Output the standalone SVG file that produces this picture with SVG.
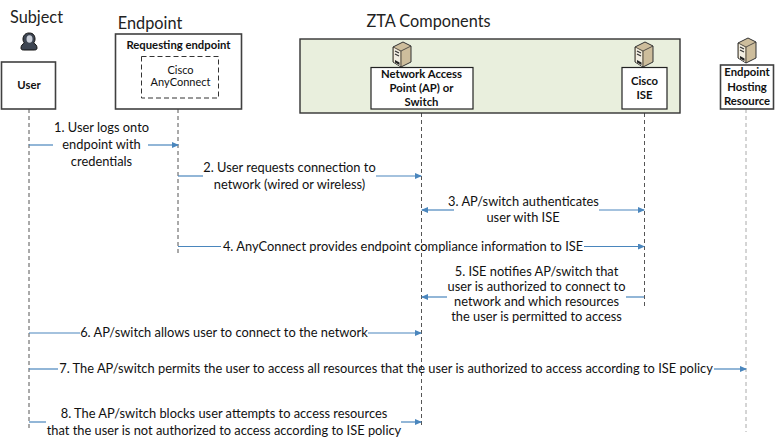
<svg xmlns="http://www.w3.org/2000/svg" width="780" height="447" viewBox="0 0 780 447">
<style>
text{font-family:Lato,Carlito,"Liberation Sans",sans-serif;fill:#111;text-anchor:middle}
.h{font-size:16.300px;fill:#222}
.b{font-size:11.300px;font-weight:700}
.s{font-size:11px}
.m{font-size:12.850px}
.box{fill:#fff;stroke:#404040;stroke-width:1.600}
.life{fill:none;stroke:#555;stroke-width:1;stroke-dasharray:4 3}
.c{fill:none;stroke:#4a86bd;stroke-width:1.200;marker-end:url(#a)}
.n{fill:none;stroke:#4a86bd;stroke-width:1.200}
</style>
<defs>
<marker id="a" markerWidth="7" markerHeight="6" refX="6" refY="3" orient="auto-start-reverse" markerUnits="userSpaceOnUse"><path d="M0 0L7 3L0 6Z" fill="#4a86bd"/></marker>
<g id="srv">
<path d="M0 5L10 0L18 4L18 20L8 25L0 20Z" fill="#cdbd9c" stroke="#333" stroke-width="1"/>
<path d="M0 5L8 9L18 4M8 9V25" fill="none" stroke="#333" stroke-width=".8"/>
<path d="M1 6L7 9.500V24L1 20Z" fill="#f2eee2"/>
<path d="M2 9L6 11M2 12L6 14" stroke="#333" stroke-width="1.200"/>
<path d="M2 18L6.500 20.500V23L2 20.500Z" fill="#222"/>
</g>
</defs>
<g id="connectors">
<path class="life" d="M29 109V431M178 109V255M421.500 113V425M644.500 113V306"/>
<path class="life" style="stroke:#aaa" d="M746 109V432"/>
<path class="n" d="M29 145H53"/><path class="c" d="M148 145H178"/>
<path class="n" d="M178 176H203"/><path class="c" d="M376 176H421"/>
<path class="c" d="M454 210H422"/><path class="c" d="M599 210H644"/>
<path class="n" d="M178 246.500H221"/><path class="c" d="M584 246.500H644"/>
<path class="c" d="M447 297H422"/><path class="n" d="M626 297H644"/>
<path class="n" d="M29 333H80"/><path class="c" d="M368 333H421"/>
<path class="n" d="M29 369H58"/><path class="c" d="M714 369H746"/>
<path class="n" d="M29 422H46"/><path class="c" d="M401 422H421"/>
</g>
<g id="labels">
<text class="h" x="36.500" y="23">Subject</text>
<text class="h" x="150" y="29">Endpoint</text>
<text class="h" x="428.500" y="27">ZTA Components</text>
</g>
<g id="subject-icon"><path d="M29.500 33c4 0 5.500 3 5.500 6 0 2-.6 3-1.500 4 2 1 3.500 2.500 3.500 5 0 1.500-1 2-2.500 2h-11c-1.500 0-2.500-.5-2.500-2 0-2.500 1.500-4 3.500-5-1-1-1.500-2-1.500-4 0-3 2-6 6-6z" fill="#3d4552" stroke="#111" stroke-width="1"/><ellipse cx="29.500" cy="39" rx="3" ry="3.800" fill="#c9ced8"/></g>
<g id="user"><rect class="box" x="1.500" y="62" width="54" height="47"/><text class="b" x="29" y="89">User</text></g>
<g id="endpoint"><rect class="box" x="115.500" y="34" width="126" height="75"/><text class="b" x="178.500" y="49">Requesting endpoint</text>
<rect x="141.500" y="56.500" width="77" height="41.500" fill="#fff" stroke="#333" stroke-width="1" stroke-dasharray="5 3"/>
<text class="s" x="180.500" y="74">Cisco</text><text class="s" x="180.500" y="86">AnyConnect</text></g>
<g id="zta"><rect x="300" y="39" width="380" height="74" fill="#e9efdd" stroke="#333" stroke-width="1.400"/></g>
<g id="nap"><use href="#srv" x="393" y="42"/><rect x="371" y="67.500" width="102" height="41.500" fill="#fff" stroke="#222" stroke-width="1.200"/>
<text class="b" x="421.500" y="78">Network Access</text><text class="b" x="421.500" y="92">Point (AP) or</text><text class="b" x="421.500" y="106">Switch</text></g>
<g id="ise"><use href="#srv" x="635" y="42"/><rect x="622" y="67.500" width="45" height="41.500" fill="#fff" stroke="#222" stroke-width="1.200"/>
<text class="b" x="644.500" y="85">Cisco</text><text class="b" x="644.500" y="99">ISE</text></g>
<g id="hosting"><use href="#srv" x="738" y="38"/><rect class="box" x="720.500" y="65" width="53" height="44"/>
<text class="b" x="747" y="76">Endpoint</text><text class="b" x="747" y="91">Hosting</text><text class="b" x="747" y="105">Resource</text></g>
<g id="messages">
<text class="m" x="101.500" y="132">1. User logs onto</text><text class="m" x="101.500" y="149">endpoint with</text><text class="m" x="101.500" y="166">credentials</text>
<text class="m" x="289.500" y="172">2. User requests connection to</text><text class="m" x="289.500" y="189">network (wired or wireless)</text>
<text class="m" x="523.500" y="206">3. AP/switch authenticates</text><text class="m" x="523" y="222">user with ISE</text>
<text class="m" x="403" y="250.500">4. AnyConnect provides endpoint compliance information to ISE</text>
<text class="m" x="536.500" y="276">5. ISE notifies AP/switch that</text><text class="m" x="536.500" y="291">user is authorized to connect to</text><text class="m" x="536.500" y="306">network and which resources</text><text class="m" x="536.500" y="321">the user is permitted to access</text>
<text class="m" x="224" y="337">6. AP/switch allows user to connect to the network</text>
<text class="m" x="386" y="373">7. The AP/switch permits the user to access all resources that the user is authorized to access according to ISE policy</text>
<text class="m" x="224" y="418">8. The AP/switch blocks user attempts to access resources</text><text class="m" x="224" y="435">that the user is not authorized to access according to ISE policy</text>
</g>
</svg>
